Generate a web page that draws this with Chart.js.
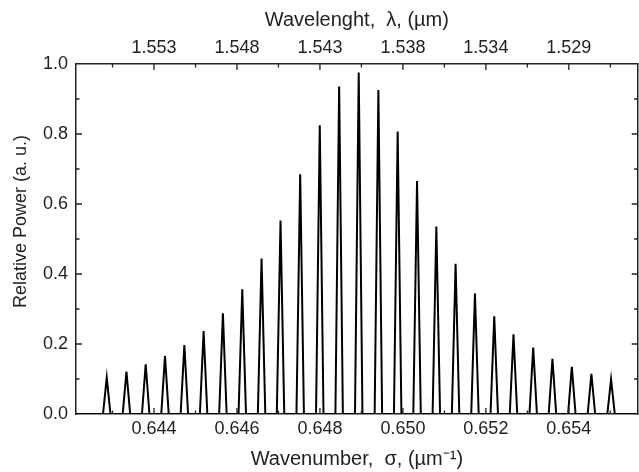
<!DOCTYPE html>
<html>
<head>
<meta charset="utf-8">
<script src="https://cdn.jsdelivr.net/npm/chart.js@4"></script>
<style>
  html, body { margin: 0; padding: 0; background: #fff; }
  canvas { display: block; }
</style>
</head>
<body>
<canvas id="spectrum" width="639" height="472"></canvas>
<script>
// Comb peaks: centre wavenumber (um^-1) and relative power of each line
const peakSigma = [
  0.642861, 0.643336, 0.643800, 0.644265, 0.644732, 0.645196, 0.645661,
  0.646128, 0.646593, 0.647050, 0.647524, 0.647996, 0.648463, 0.648935,
  0.649409, 0.649874, 0.650341, 0.650806, 0.651270, 0.651737, 0.652202,
  0.652666, 0.653141, 0.653605, 0.654072, 0.654544, 0.655018
];
const peakPower = [
  0.104, 0.121, 0.142, 0.166, 0.197, 0.237, 0.288,
  0.356, 0.444, 0.553, 0.685, 0.825, 0.936, 0.976,
  0.926, 0.807, 0.666, 0.536, 0.429, 0.344, 0.279,
  0.228, 0.190, 0.158, 0.135, 0.115, 0.099
];

// Bottom axis ticks (wavenumber) and the matching wavelength labels on top
const sigmaTicks = [0.644, 0.646, 0.648, 0.650, 0.652, 0.654];
const lambdaLabels = ['1.553', '1.548', '1.543', '1.538', '1.534', '1.529'];
const powerTicks = [0, 0.2, 0.4, 0.6, 0.8, 1.0];

const SIGMA_MIN = 0.64212;
const SIGMA_MAX = 0.65566;
const PEAK_HALF_WIDTH = 0.00009;

const axisColor = '#222';
const textColor = '#222';
const fontFamily = "'Liberation Sans', Arial, Helvetica, sans-serif";

// each line is a narrow spike sitting on a zero baseline
const trace = [{ x: SIGMA_MIN, y: 0 }];
peakSigma.forEach((s, i) => {
  trace.push({ x: s - PEAK_HALF_WIDTH, y: 0 });
  trace.push({ x: s, y: peakPower[i] });
  trace.push({ x: s + PEAK_HALF_WIDTH, y: 0 });
});
trace.push({ x: SIGMA_MAX, y: 0 });

const useTicks = (values) => (scale) => {
  scale.ticks = values.map((v) => ({ value: v }));
};

// Origin-style ticks pointing into the plot on all four sides,
// plus the y title which sits a little above the middle of the axis
const inwardTicks = {
  id: 'inwardTicks',
  afterDatasetsDraw(chart) {
    const { ctx, chartArea: a, scales } = chart;
    ctx.save();
    ctx.strokeStyle = axisColor;
    ctx.lineWidth = 1.3;
    ctx.beginPath();
    for (let i = 0; i <= 12; i++) {
      const px = scales.x.getPixelForValue(0.643 + i * 0.001);
      const len = i % 2 ? 6 : 3.5;
      ctx.moveTo(px, a.bottom); ctx.lineTo(px, a.bottom - len);
      ctx.moveTo(px, a.top); ctx.lineTo(px, a.top + len);
    }
    for (let i = 1; i < 10; i++) {
      const py = scales.y.getPixelForValue(i * 0.1);
      const len = i % 2 ? 3.5 : 6;
      ctx.moveTo(a.left, py); ctx.lineTo(a.left + len, py);
      ctx.moveTo(a.right, py); ctx.lineTo(a.right - len, py);
    }
    ctx.stroke();

    ctx.translate(21, scales.y.getPixelForValue(0.55));
    ctx.rotate(-Math.PI / 2);
    ctx.fillStyle = textColor;
    ctx.font = '18px ' + fontFamily;
    ctx.textAlign = 'center';
    ctx.textBaseline = 'middle';
    ctx.fillText('Relative Power (a. u.)', 0, 0);
    ctx.restore();
  }
};

const tickFont = { family: fontFamily, size: 18 };
const titleFont = { family: fontFamily, size: 20 };
const noGrid = { display: false, drawTicks: false, tickLength: 0 };

new Chart(document.getElementById('spectrum'), {
  type: 'line',
  data: {
    datasets: [{
      data: trace,
      borderColor: '#000',
      borderWidth: 2,
      pointRadius: 0,
      tension: 0,
      fill: false,
      xAxisID: 'x',
      yAxisID: 'y'
    }]
  },
  options: {
    responsive: false,
    animation: false,
    layout: { padding: 0 },
    plugins: { legend: { display: false }, tooltip: { enabled: false } },
    scales: {
      x: {
        type: 'linear',
        position: 'bottom',
        min: SIGMA_MIN,
        max: SIGMA_MAX,
        afterBuildTicks: useTicks(sigmaTicks),
        afterFit: (s) => { s.height = 58; },
        grid: noGrid,
        border: { display: true, color: axisColor, width: 1.5 },
        ticks: {
          color: textColor, font: tickFont, padding: 4,
          maxRotation: 0, autoSkip: false,
          callback: (v) => v.toFixed(3)
        },
        title: {
          display: true, text: 'Wavenumber,  σ, (µm⁻¹)',
          color: textColor, font: titleFont, padding: { top: 0, bottom: 1 }
        }
      },
      x2: {
        type: 'linear',
        position: 'top',
        min: SIGMA_MIN,
        max: SIGMA_MAX,
        afterBuildTicks: useTicks(sigmaTicks),
        afterFit: (s) => { s.height = 64; },
        grid: noGrid,
        border: { display: true, color: axisColor, width: 1.5 },
        ticks: {
          color: textColor, font: tickFont, padding: 5,
          maxRotation: 0, autoSkip: false,
          callback: (v, i) => lambdaLabels[i]
        },
        title: {
          display: true, text: 'Wavelenght,  λ, (µm)',
          color: textColor, font: titleFont, padding: { top: 8, bottom: 0 }
        }
      },
      y: {
        type: 'linear',
        position: 'left',
        min: 0,
        max: 1,
        afterBuildTicks: useTicks(powerTicks),
        afterFit: (s) => { s.width = 76; },
        grid: noGrid,
        border: { display: true, color: axisColor, width: 1.5 },
        ticks: {
          color: textColor, font: tickFont, padding: 8,
          callback: (v) => v.toFixed(1)
        }
      },
      y2: {
        type: 'linear',
        position: 'right',
        min: 0,
        max: 1,
        afterFit: (s) => { s.width = 1.3; },
        grid: noGrid,
        border: { display: true, color: axisColor, width: 1.5 },
        ticks: { display: false }
      }
    }
  },
  plugins: [inwardTicks]
});
</script>
</body>
</html>
